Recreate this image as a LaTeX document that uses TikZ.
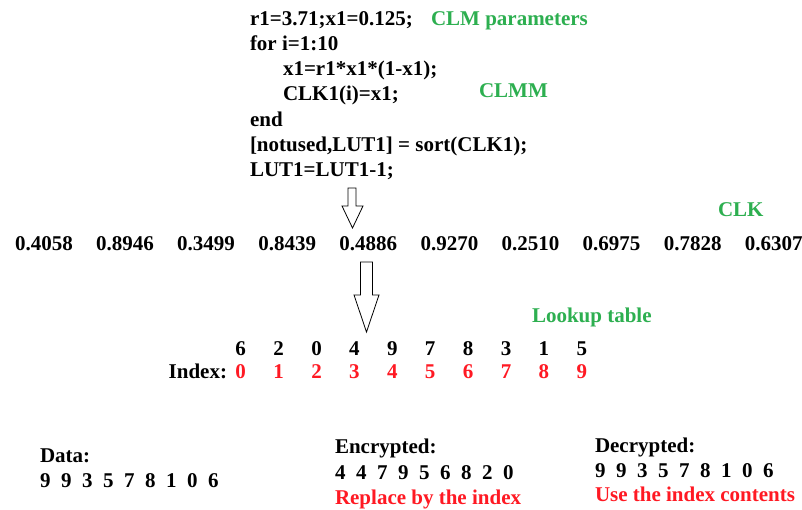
\documentclass[tikz,border=0pt]{standalone}
\usepackage{fontspec}
\setmainfont{Liberation Serif}
\definecolor{lblgreen}{RGB}{45,175,80}
\definecolor{lblred}{RGB}{255,25,35}
\tikzset{
  txt/.style={inner sep=0pt, outer sep=0pt, anchor=base west,
    font=\fontsize{21}{25}\selectfont\bfseries},
  note/.style={txt, text=lblgreen},
  hint/.style={txt, text=lblred},
  blockarrow/.style={draw=black, fill=white, line width=0.8pt, line join=miter}
}
\begin{document}
\begin{tikzpicture}[x=1pt, y=1pt]
  \useasboundingbox[fill=white] (0,0) rectangle (802,-510);

  % MATLAB code generating the chaotic sequence
  \node[txt] (c1) at (250,-26)  {r1=3.71;x1=0.125;};
  \node[txt] (c2) at (250,-51)  {for i=1:10};
  \node[txt] (c3) at (283,-76)  {x1=r1*x1*(1-x1);};
  \node[txt] (c4) at (283,-101) {CLK1(i)=x1;};
  \node[txt] (c5) at (250,-127) {end};
  \node[txt] (c6) at (250,-152) {[notused,LUT1] = sort(CLK1);};
  \node[txt] (c7) at (250,-177) {LUT1=LUT1-1;};

  \node[note] (clmp) at (431,-26) {CLM parameters};
  \node[note] (clmm) at (479,-98) {CLMM};
  \node[note] (clk)  at (718,-217) {CLK};
  \node[note] (lut)  at (532,-322) {Lookup table};

  % first block arrow: code -> sequence
  \draw[blockarrow] (348,-188) -- (356,-188) -- (356,-206) -- (363,-206)
    -- (352.5,-228) -- (342,-206) -- (348,-206) -- cycle;

  % chaotic sequence CLK
  \foreach \v [count=\i from 0] in {0.4058,0.8946,0.3499,0.8439,0.4886,0.9270,0.2510,0.6975,0.7828,0.6307}
    \node[txt] (s\i) at ({15+81.1*\i},-251) {\v};

  % second block arrow: sequence -> lookup table
  \draw[blockarrow] (360.5,-262) -- (372.5,-262) -- (372.5,-295) -- (379,-295)
    -- (366.5,-332) -- (354,-295) -- (360.5,-295) -- cycle;

  % lookup table and its index
  \foreach \v [count=\i from 0] in {6,2,0,4,9,7,8,3,1,5}
    \node[txt, anchor=base] (l\i) at ({240.7+37.9*\i},-355) {\v};
  \node[txt, anchor=base east] (idx) at (227,-378) {Index:};
  \foreach \i in {0,...,9}
    \node[hint, anchor=base] (n\i) at ({240.7+37.9*\i},-378) {\i};

  % data, encrypted and decrypted results
  \node[txt] (data)  at (40,-462) {Data:};
  \node[txt] (datav) at (40,-487) {9~~9~~3~~5~~7~~8~~1~~0~~6};

  \node[txt]  (enc)  at (335,-453) {Encrypted:};
  \node[txt]  (encv) at (335,-479) {4~~4~~7~~9~~5~~6~~8~~2~~0};
  \node[hint] (encn) at (335,-504) {Replace by the index};

  \node[txt]  (dec)  at (595,-452) {Decrypted:};
  \node[txt]  (decv) at (595,-477) {9~~9~~3~~5~~7~~8~~1~~0~~6};
  \node[hint] (decn) at (595,-501) {Use the index contents};
\end{tikzpicture}
\end{document}
